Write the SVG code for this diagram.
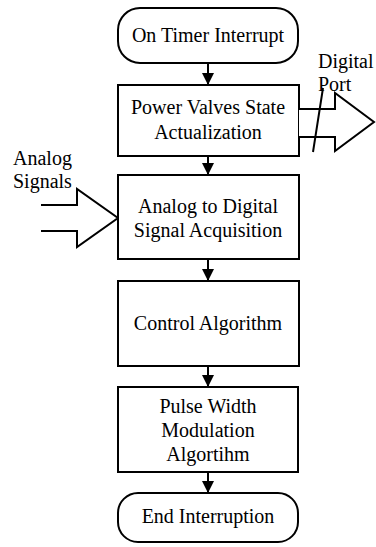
<svg xmlns="http://www.w3.org/2000/svg" width="376" height="547" viewBox="0 0 376 547">
<defs>
<marker id="ah" viewBox="0 0 12 12" refX="12" refY="6" markerWidth="12" markerHeight="12" markerUnits="userSpaceOnUse" orient="auto">
<path d="M0,0 L12,6 L0,12 Z" fill="#000"/>
</marker>
</defs>
<rect width="376" height="547" fill="#fff"/>
<g id="connectors" fill="none" stroke="#000" stroke-width="2">
<line x1="208" y1="63" x2="208" y2="85" marker-end="url(#ah)"/>
<line x1="208" y1="156" x2="208" y2="175" marker-end="url(#ah)"/>
<line x1="208" y1="259" x2="208" y2="281" marker-end="url(#ah)"/>
<line x1="208" y1="366" x2="208" y2="387" marker-end="url(#ah)"/>
<line x1="208" y1="472" x2="208" y2="493" marker-end="url(#ah)"/>
</g>
<g id="start">
<rect x="118" y="8" width="180" height="55" rx="22" ry="22" fill="#fff" stroke="#000" stroke-width="2"/>
<text x="208" y="42" font-family="Liberation Serif" font-size="20" text-anchor="middle">On Timer Interrupt</text>
</g>
<g id="power-valves">
<rect x="118" y="85" width="181" height="71" fill="#fff" stroke="#000" stroke-width="2"/>
<text x="208" y="114" font-family="Liberation Serif" font-size="20" text-anchor="middle">Power Valves State</text>
<text x="208" y="139" font-family="Liberation Serif" font-size="20" text-anchor="middle">Actualization</text>
</g>
<g id="digital-port">
<path d="M299,109 L335,109 L335,93 L374,122 L335,151 L335,137 L299,137" fill="#fff" stroke="#000" stroke-width="2"/>
<line x1="313" y1="152" x2="323" y2="88" stroke="#000" stroke-width="2"/>
<text x="318" y="68" font-family="Liberation Serif" font-size="20">Digital</text>
<text x="318" y="91" font-family="Liberation Serif" font-size="20">Port</text>
</g>
<g id="analog-signals">
<path d="M41,205 L77,205 L77,189 L118,218 L77,247 L77,231 L41,231" fill="#fff" stroke="#000" stroke-width="2"/>
<text x="13" y="165" font-family="Liberation Serif" font-size="20">Analog</text>
<text x="13" y="188" font-family="Liberation Serif" font-size="20">Signals</text>
</g>
<g id="adc">
<rect x="118" y="175" width="181" height="84" fill="#fff" stroke="#000" stroke-width="2"/>
<text x="208" y="213" font-family="Liberation Serif" font-size="20" text-anchor="middle">Analog to Digital</text>
<text x="208" y="237" font-family="Liberation Serif" font-size="20" text-anchor="middle">Signal Acquisition</text>
</g>
<g id="control">
<rect x="118" y="281" width="181" height="85" fill="#fff" stroke="#000" stroke-width="2"/>
<text x="208" y="330" font-family="Liberation Serif" font-size="20" text-anchor="middle">Control Algorithm</text>
</g>
<g id="pwm">
<rect x="118" y="387" width="180" height="85" fill="#fff" stroke="#000" stroke-width="2"/>
<text x="208" y="413" font-family="Liberation Serif" font-size="20" text-anchor="middle">Pulse Width</text>
<text x="208" y="437" font-family="Liberation Serif" font-size="20" text-anchor="middle">Modulation</text>
<text x="208" y="461" font-family="Liberation Serif" font-size="20" text-anchor="middle">Algortihm</text>
</g>
<g id="end">
<rect x="118" y="493" width="180" height="49" rx="20" ry="20" fill="#fff" stroke="#000" stroke-width="2"/>
<text x="208" y="523" font-family="Liberation Serif" font-size="20" text-anchor="middle">End Interruption</text>
</g>
</svg>
